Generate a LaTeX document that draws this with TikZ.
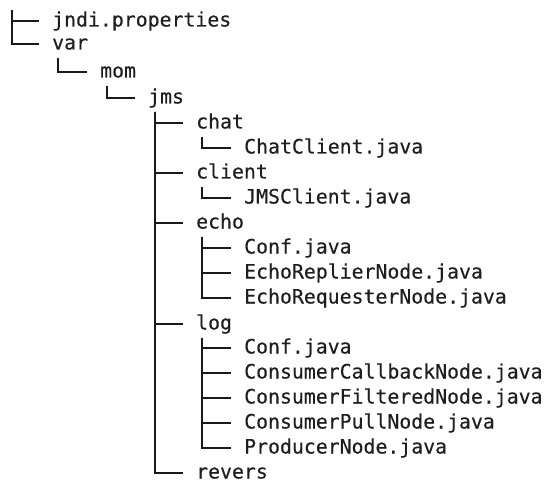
\documentclass[tikz,border=0pt]{standalone}
\usepackage{fontspec}
\newfontfamily\codefont[FakeBold=0.35]{DejaVu Sans Mono}
\definecolor{txt}{HTML}{1E1E1E}
\definecolor{ln}{HTML}{1A1A1A}
\begin{document}
\begin{tikzpicture}[x=1bp,y=-1bp,
  item/.style={anchor=west, inner sep=0pt, text height=15bp, text depth=4bp,
    font=\codefont\fontsize{19.9}{22}\selectfont, text=txt},
  branch/.style={draw=ln, line width=2bp}]
\useasboundingbox (0,0) rectangle (548,483);
% rows
\node[item] (jndi) at (52,21) {jndi.properties};
\node[item] (var) at (52,44) {var};
\node[item] (mom) at (100,72) {mom};
\node[item] (jms) at (148,98) {jms};
\node[item] (chat) at (196,123) {chat};
\node[item] (chatclient) at (244,148) {ChatClient.java};
\node[item] (client) at (196,173) {client};
\node[item] (jmsclient) at (244,198) {JMSClient.java};
\node[item] (echo) at (196,223) {echo};
\node[item] (econf) at (244,248) {Conf.java};
\node[item] (erepl) at (244,273) {EchoReplierNode.java};
\node[item] (ereq) at (244,298) {EchoRequesterNode.java};
\node[item] (log) at (196,324) {log};
\node[item] (lconf) at (244,348) {Conf.java};
\node[item] (lcb) at (244,373) {ConsumerCallbackNode.java};
\node[item] (lfilt) at (244,398) {ConsumerFilteredNode.java};
\node[item] (lpull) at (244,423) {ConsumerPullNode.java};
\node[item] (lprod) at (244,448) {ProducerNode.java};
\node[item] (revers) at (196,473) {revers};
% root
\coordinate (root) at (12,10);
\draw[branch] (root) |- ([xshift=-13bp]jndi.west);
\draw[branch] (root) |- ([xshift=-13bp]var.west);
% var -> mom
\draw[branch] ([xshift=6bp,yshift=-4bp]var.south west) |- ([xshift=-13bp]mom.west);
% mom -> jms
\draw[branch] ([xshift=7bp,yshift=-4bp]mom.south west) |- ([xshift=-13bp]jms.west);
% jms -> children
\foreach \c in {chat,client,echo,log,revers}
  \draw[branch] ([xshift=7bp,yshift=-4bp]jms.south west) |- ([xshift=-13bp]\c.west);
% chat
\draw[branch] ([xshift=6bp,yshift=-4bp]chat.south west) |- ([xshift=-13bp]chatclient.west);
% client
\draw[branch] ([xshift=6bp,yshift=-4bp]client.south west) |- ([xshift=-13bp]jmsclient.west);
% echo
\foreach \c in {econf,erepl,ereq}
  \draw[branch] ([xshift=6bp,yshift=-4bp]echo.south west) |- ([xshift=-13bp]\c.west);
% log
\foreach \c in {lconf,lcb,lfilt,lpull,lprod}
  \draw[branch] ([xshift=6bp,yshift=-4bp]log.south west) |- ([xshift=-13bp]\c.west);
\end{tikzpicture}
\end{document}
